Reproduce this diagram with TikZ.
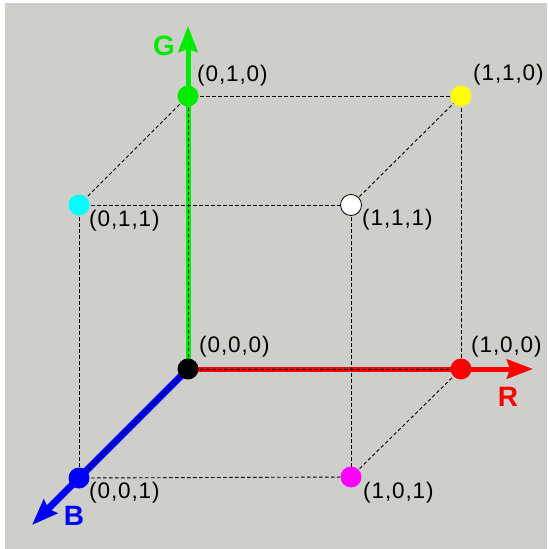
\documentclass[tikz,border=0pt]{standalone}
\usepackage{fontspec}
\setmainfont{Liberation Sans}
\newfontfamily\lblfont[LetterSpace=4]{Liberation Sans}
\usetikzlibrary{arrows.meta}
\definecolor{bggray}{RGB}{206,206,202}
\definecolor{gcol}{RGB}{0,235,0}
\definecolor{rcol}{RGB}{255,0,0}
\definecolor{bcol}{RGB}{0,0,245}
\definecolor{ycol}{RGB}{255,255,0}
\definecolor{ccol}{RGB}{0,255,255}
\definecolor{mcol}{RGB}{255,0,255}
\tikzset{
  dot/.style={circle,minimum size=21pt,inner sep=0pt},
  edge/.style={black,line width=0.9pt,dash pattern=on 3.5pt off 2.5pt},
  axisline/.style={line width=5pt,-{Stealth[length=26pt,width=19pt,inset=3pt]}},
  axlabel/.style={font=\fontsize{28}{30}\selectfont\bfseries,inner sep=0pt},
  ptlabel/.style={font=\lblfont\fontsize{22.5}{24}\selectfont,anchor=west,inner sep=0pt}
}
\begin{document}
\begin{tikzpicture}[x=1pt,y=-1pt]
\useasboundingbox (0,0) rectangle (547,549);
\fill[white] (0,0) rectangle (547,549);
\fill[bggray] (5,3) rectangle (547,549);
% vertices
\coordinate (p000) at (188,369);
\coordinate (p010) at (188,96);
\coordinate (p110) at (461,96);
\coordinate (p100) at (461,369);
\coordinate (p011) at (79,205);
\coordinate (p111) at (351,205);
\coordinate (p001) at (79,478);
\coordinate (p101) at (351,477);
\coordinate (gtip) at (188,26);
\coordinate (rtip) at (533,369);
\coordinate (btip) at (32,525);
% axes
\draw[axisline,gcol] (p000) -- (gtip);
\draw[axisline,rcol] (p000) -- (rtip);
\draw[axisline,bcol,line width=7pt] (p000) -- (btip);
% cube edges
\draw[edge] (p010) -- (p110);
\draw[edge] (p010) -- (p011);
\draw[edge] (p011) -- (p111);
\draw[edge] (p111) -- (p110);
\draw[edge] (p110) -- (p100);
\draw[edge] (p111) -- (p101);
\draw[edge] (p011) -- (p001);
\draw[edge] (p001) -- (p101);
\draw[edge] (p101) -- (p100);
\draw[edge] (p000) -- (p010);
\draw[edge] (p000) -- (p100);
\draw[edge] (p000) -- (p001);
% dots
\node[dot,fill=black] (n000) at (p000) {};
\node[dot,fill=gcol] (n010) at (p010) {};
\node[dot,fill=ycol] (n110) at (p110) {};
\node[dot,fill=rcol] (n100) at (p100) {};
\node[dot,fill=ccol] (n011) at (p011) {};
\node[dot,fill=white,draw=black,line width=0.8pt] (n111) at (p111) {};
\node[dot,fill=bcol] (n001) at (p001) {};
\node[dot,fill=mcol] (n101) at (p101) {};
% axis labels
\node[axlabel,text=gcol] (lg) at (164,46) {G};
\node[axlabel,text=rcol] (lr) at (508,397) {R};
\node[axlabel,text=bcol] (lb) at (74,516) {B};
% point labels
\node[ptlabel] (l010) at (197,76) {(0,1,0)};
\node[ptlabel] (l110) at (473,75) {(1,1,0)};
\node[ptlabel] (l011) at (89,221) {(0,1,1)};
\node[ptlabel] (l111) at (362,220) {(1,1,1)};
\node[ptlabel] (l000) at (199,347) {(0,0,0)};
\node[ptlabel] (l100) at (471,347) {(1,0,0)};
\node[ptlabel] (l001) at (89,493) {(0,0,1)};
\node[ptlabel] (l101) at (363,493) {(1,0,1)};
\end{tikzpicture}
\end{document}
